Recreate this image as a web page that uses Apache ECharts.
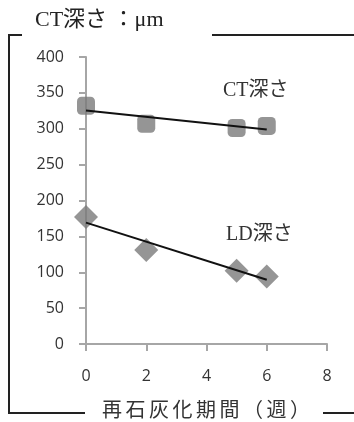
<!DOCTYPE html>
<html>
<head>
<meta charset="utf-8">
<script src="https://cdn.jsdelivr.net/npm/echarts@6/dist/echarts.min.js"></script>
<style>
  html, body { margin: 0; padding: 0; background: #fff; }
  #chart { width: 354px; height: 422px; }
</style>
</head>
<body>
<div id="chart"></div>
<script>
// Remineralisation period (weeks) and lesion depths (µm)
const weeks = [0, 2, 5, 6];
const ctDepth = [332, 307, 301, 304];
const ldDepth = [177, 131, 102, 94];
const yTicks = { min: 0, max: 400, step: 50 };
const xTicks = { min: 0, max: 8, step: 2 };
const xName = '再石灰化期間（週）';
const yName = 'CT深さ ：μm';

// Least-squares fit drawn across the measured range
function fit(xs, ys) {
  const n = xs.length;
  const mx = xs.reduce((a, b) => a + b, 0) / n;
  const my = ys.reduce((a, b) => a + b, 0) / n;
  let sxy = 0, sxx = 0;
  for (let i = 0; i < n; i++) {
    sxy += (xs[i] - mx) * (ys[i] - my);
    sxx += (xs[i] - mx) * (xs[i] - mx);
  }
  const k = sxy / sxx, b = my - k * mx;
  const x0 = Math.min(...xs), x1 = Math.max(...xs);
  return [[x0, b + k * x0], [x1, b + k * x1]];
}

const serif = "'Liberation Serif', 'Noto Sans CJK JP', serif";
const sans = "'Open Sans', 'Noto Sans CJK JP', sans-serif";
const axisGray = '#a6a6a6';
const markGray = '#7a7a7a';

// axis title set with wide character pitch
const nameChars = xName.split('').map((ch, i) => ({
  type: 'text', left: 102 + i * 23.5, top: 402,
  style: { text: ch, font: '20px ' + serif, fill: '#333' }
}));

const chart = echarts.init(document.getElementById('chart'), null, { renderer: 'canvas' });
chart.setOption({
  animation: false,
  backgroundColor: '#fff',
  grid: { left: 86, right: 27, top: 57, bottom: 78 },
  xAxis: {
    type: 'value',
    min: xTicks.min, max: xTicks.max, interval: xTicks.step,
    axisLine: { onZero: false, lineStyle: { color: axisGray, width: 2 } },
    axisTick: { show: true, length: 7, lineStyle: { color: axisGray, width: 2 } },
    splitLine: { show: false },
    axisLabel: { margin: 24, color: '#333', fontSize: 16, fontFamily: sans }
  },
  yAxis: {
    type: 'value',
    min: yTicks.min, max: yTicks.max, interval: yTicks.step,
    axisLine: { show: true, lineStyle: { color: axisGray, width: 2 } },
    axisTick: { show: true, length: 7, lineStyle: { color: axisGray, width: 2 } },
    splitLine: { show: false },
    axisLabel: { margin: 22, color: '#333', fontSize: 16, fontFamily: sans }
  },
  series: [
    {
      name: 'CT深さ', type: 'scatter', symbol: 'roundRect', symbolSize: 18,
      itemStyle: { color: markGray },
      data: weeks.map((w, i) => [w, ctDepth[i]]), z: 2
    },
    {
      name: 'LD深さ', type: 'scatter', symbol: 'diamond', symbolSize: 24,
      itemStyle: { color: markGray },
      data: weeks.map((w, i) => [w, ldDepth[i]]), z: 2
    },
    {
      type: 'line', data: fit(weeks, ctDepth), showSymbol: false, symbol: 'none',
      lineStyle: { color: '#111', width: 2 }, z: 3
    },
    {
      type: 'line', data: fit(weeks, ldDepth), showSymbol: false, symbol: 'none',
      lineStyle: { color: '#111', width: 2 }, z: 3
    }
  ],
  graphic: [
    // frame around the plot, broken where the titles sit
    { type: 'polyline', shape: { points: [[22, 35], [9, 35], [9, 413], [85, 413]] },
      style: { stroke: '#222', lineWidth: 2, fill: null } },
    { type: 'line', shape: { x1: 212, y1: 35, x2: 354, y2: 35 }, style: { stroke: '#222', lineWidth: 2 } },
    { type: 'line', shape: { x1: 323, y1: 413, x2: 354, y2: 413 }, style: { stroke: '#222', lineWidth: 2 } },
    { type: 'text', left: 35, top: 9,
      style: { text: yName, font: '22px ' + serif, fill: '#222' } },
    { type: 'text', left: 223, top: 81,
      style: { text: 'CT深さ', font: '20px ' + serif, fill: '#333' } },
    { type: 'text', left: 226, top: 225,
      style: { text: 'LD深さ', font: '20px ' + serif, fill: '#333' } }
  ].concat(nameChars)
});
</script>
</body>
</html>
